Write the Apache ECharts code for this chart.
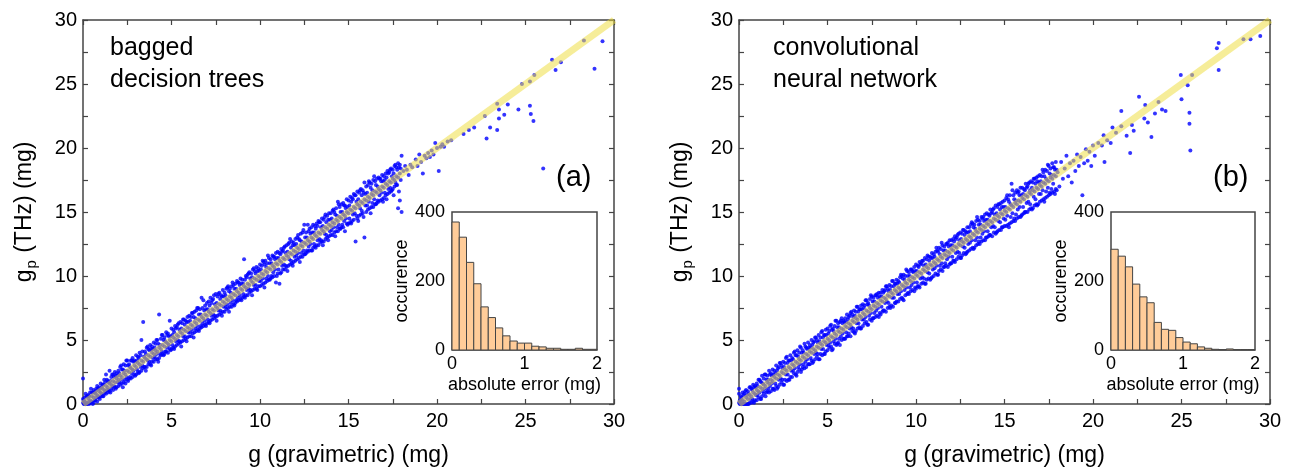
<!DOCTYPE html>
<html><head><meta charset="utf-8">
<script src="https://cdn.jsdelivr.net/npm/echarts@6/dist/echarts.min.js"></script>
<style>html,body{margin:0;padding:0;background:#fff}#c{width:1295px;height:472px}</style>
</head><body><div id="c"></div>
<script>
// ---------- data ----------
const xAxisTitle = 'g (gravimetric) (mg)';
const yAxisTitle = 'g{s|p} (THz) (mg)';
const insetXTitle = 'absolute error (mg)';
const insetYTitle = 'occurence';
const panelTags = ['(a)', '(b)'];
const methodA = ['bagged', 'decision trees'];
const methodB = ['convolutional', 'neural network'];
const diagonal = [[0, 0], [30, 30]];

const binEdges = [0,0.1,0.2,0.3,0.4,0.5,0.6,0.7,0.8,0.9,1.0,1.1,1.2,1.3,1.4,1.5,1.6,1.7,1.8,1.9,2.0];
const histA = [371,327,254,192,125,94,64,41,26,20,20,11,9,5,5,2,2,5,2,2];
const histB = [292,272,241,191,154,137,80,60,57,36,23,18,9,5,2,1,3,1,1,1];

// dense band, panel (a): [x, y, y, y]
const rowsA = [
[0.0,0.1,0.4,2.0],[0.1,0.2,0.5,0.0],[0.2,0.1,0.6,0.0],[0.3,0.4,0.7,0.1],[0.4,0.3,0.9,0.1],[0.5,0.6,0.9,0.2],[0.6,0.5,1.1,0.1],[0.7,0.8,1.0,0.3],[0.8,0.7,1.4,0.2],[0.9,1.0,1.3,0.5],
[1.0,0.9,1.6,0.6],[1.1,1.2,1.5,0.6],[1.2,1.1,1.9,0.8],[1.3,1.4,2.3,0.8],[1.4,1.3,1.8,0.9],[1.5,1.6,2.6,1.0],[1.6,1.5,2.1,1.2],[1.7,1.8,2.3,1.1],[1.8,1.7,2.5,1.3],[1.9,2.0,2.4,1.3],
[2.0,1.9,2.6,1.4],[2.1,2.2,2.9,1.5],[2.2,2.1,2.7,1.6],[2.3,2.4,3.1,1.7],[2.4,2.3,3.0,1.6],[2.5,2.6,3.4,1.9],[2.6,2.5,3.1,2.0],[2.7,2.8,3.4,2.0],[2.8,2.7,3.6,2.1],[2.9,3.0,3.4,2.3],
[3.0,2.9,3.8,2.3],[3.1,3.2,3.7,2.5],[3.2,3.1,4.0,2.5],[3.3,3.4,5.0,2.6],[3.4,3.3,6.4,2.8],[3.5,3.6,4.1,2.9],[3.6,3.5,4.4,2.9],[3.7,3.8,4.3,3.1],[3.8,3.7,4.6,3.1],[3.9,4.0,4.5,3.3],
[4.0,3.9,4.8,3.3],[4.1,4.2,4.7,3.5],[4.2,4.1,5.0,3.5],[4.3,4.4,7.0,3.6],[4.4,4.3,5.1,3.8],[4.5,4.6,5.4,3.9],[4.6,4.5,5.2,3.9],[4.7,4.8,5.6,4.1],[4.8,4.7,5.5,4.0],[4.9,5.0,6.5,4.3],
[5.0,4.9,5.9,4.3],[5.1,5.2,5.8,4.4],[5.2,5.1,6.1,4.5],[5.3,5.4,6.0,4.6],[5.4,5.3,6.3,4.7],[5.5,5.6,6.4,4.8],[5.6,5.5,6.3,4.9],[5.7,5.8,6.6,5.0],[5.8,5.7,6.5,5.1],[5.9,6.0,6.8,5.2],
[6.0,5.9,6.9,5.3],[6.1,6.2,6.8,5.3],[6.2,6.1,7.1,5.5],[6.3,6.4,7.2,5.6],[6.4,6.3,7.3,5.7],[6.5,6.6,7.5,5.8],[6.6,6.5,7.4,5.9],[6.7,6.8,8.3,6.0],[6.8,6.7,8.1,6.1],[6.9,7.0,7.7,6.2],
[7.0,6.9,7.9,6.3],[7.1,7.2,8.0,6.4],[7.2,7.1,8.3,6.5],[7.3,7.4,8.1,6.6],[7.4,7.3,8.5,6.7],[7.5,7.6,8.6,6.8],[7.6,7.5,8.4,6.9],[7.7,7.8,8.7,7.0],[7.8,7.7,8.5,7.1],[7.9,8.0,8.9,7.2],
[8.0,7.9,8.7,7.2],[8.1,8.2,9.0,7.4],[8.2,8.1,9.2,7.5],[8.3,8.4,9.0,7.6],[8.4,8.3,9.2,7.6],[8.5,8.6,9.3,7.8],[8.6,8.5,9.4,7.9],[8.7,8.8,9.6,8.0],[8.8,8.7,9.5,8.1],[8.9,9.0,9.8,8.2],
[9.0,8.9,9.7,8.3],[9.1,9.2,11.3,8.4],[9.2,9.1,10.0,8.5],[9.3,9.4,10.1,8.5],[9.4,9.3,10.3,8.7],[9.5,9.6,10.2,8.8],[9.6,9.5,10.5,8.9],[9.7,9.8,10.4,9.0],[9.8,9.7,10.7,9.0],[9.9,10.0,10.6,9.2],
[10.0,9.9,10.9,9.2],[10.1,10.2,10.8,9.3],[10.2,10.1,11.1,9.4],[10.3,10.4,11.2,9.5],[10.4,10.3,11.0,9.6],[10.5,10.6,11.4,9.7],[10.6,10.5,11.3,9.8],[10.7,10.8,11.6,9.9],[10.8,10.7,11.5,10.0],[10.9,11.0,11.8,9.5],
[11.0,10.9,11.9,10.2],[11.1,11.2,11.8,9.4],[11.2,11.1,12.1,10.3],[11.3,11.4,12.0,10.5],[11.4,11.3,12.3,10.5],[11.5,11.6,12.4,10.7],[11.6,11.5,12.5,10.8],[11.7,11.8,12.9,10.9],[11.8,11.7,12.7,11.0],[11.9,12.0,12.6,11.1],
[12.0,11.9,12.9,11.2],[12.1,12.2,13.0,11.3],[12.2,12.1,12.9,11.4],[12.3,12.4,13.3,11.5],[12.4,12.3,13.4,11.5],[12.5,12.6,14.0,11.7],[12.6,12.5,13.4,11.8],[12.7,12.8,14.0,11.9],[12.8,12.7,13.7,12.0],[12.9,13.0,13.8,12.0],
[13.0,12.9,14.0,12.2],[13.1,13.2,13.9,12.3],[13.2,13.1,14.1,12.4],[13.3,13.4,14.3,12.4],[13.4,13.3,14.2,12.6],[13.5,13.6,14.5,12.7],[13.6,13.5,14.4,12.7],[13.7,13.8,14.8,12.9],[13.8,13.7,14.7,13.0],[13.9,14.0,14.9,13.1],
[14.0,13.9,14.9,13.2],[14.1,14.2,15.1,13.2],[14.2,14.1,15.0,13.4],[14.3,14.4,15.3,13.5],[14.4,14.3,15.8,13.5],[14.5,14.6,15.4,13.7],[14.6,14.5,15.6,13.8],[14.7,14.8,15.7,13.8],[14.8,14.7,15.5,13.5],[14.9,15.0,16.0,14.1],
[15.0,14.9,15.9,14.1],[15.1,15.2,16.2,14.2],[15.2,15.1,16.1,14.3],[15.3,15.4,16.4,14.4],[15.4,15.3,16.3,12.7],[15.5,15.6,16.6,14.5],[15.6,15.5,16.5,14.7],[15.7,15.8,16.8,14.8],[15.8,15.7,16.7,14.9],[15.9,16.0,17.3,13.0],
[16.0,15.9,17.0,15.0],[16.1,16.2,17.1,15.2],[16.2,16.1,17.3,15.3],[16.3,16.4,17.2,15.4],[16.4,16.3,17.5,15.4],[16.5,16.6,17.4,15.6],[16.6,16.5,17.6,15.7],[16.7,16.8,17.7,15.8],[16.8,16.7,17.6,15.9],[16.9,17.0,17.9,16.0],
[17.0,16.9,17.8,16.1],[17.1,17.2,18.0,16.3],[17.2,17.1,18.2,16.4],[17.3,17.4,18.1,16.5],[17.4,17.3,18.4,16.6],[17.5,17.6,18.3,16.8],[17.6,17.5,18.6,17.0],[17.7,17.8,18.5,17.1],[17.8,17.7,18.8,15.3],[17.9,18.0,18.7,15.9]
];
// in-between points, panel (a): [x, y, y]
const fillA = [
[0.05,0.3,0.0],[0.15,0.0,0.8],[0.25,0.6,0.0],[0.35,0.0,0.6],[0.45,1.2,0.2],[0.55,0.0,0.9],[0.65,0.9,0.3],[0.75,0.5,1.2],[0.85,1.2,0.6],[0.95,0.4,1.2],
[1.05,0.8,1.3],[1.15,1.5,0.6],[1.25,1.0,1.7],[1.35,1.9,1.1],[1.45,1.1,1.7],[1.55,1.8,0.9],[1.65,1.4,2.3],[1.75,2.1,1.4],[1.85,1.2,2.2],[1.95,2.2,1.7],
[2.05,2.4,1.7],[2.15,1.9,3.0],[2.25,2.7,1.3],[2.35,1.9,2.6],[2.45,3.4,2.1],[2.55,1.8,3.0],[2.65,2.9,2.1],[2.75,2.4,3.4],[2.85,3.3,2.6],[2.95,2.2,3.3],
[3.05,2.7,3.4],[3.15,3.6,2.4],[3.25,2.9,3.8],[3.35,4.1,3.0],[3.45,2.9,3.7],[3.55,3.9,2.6],[3.65,3.4,4.5],[3.75,4.2,3.3],[3.85,3.0,4.3],[3.95,4.3,3.6],
[4.05,4.4,3.7],[4.15,3.9,5.0],[4.25,4.7,3.3],[4.35,3.9,4.6],[4.45,5.4,4.1],[4.55,3.8,5.0],[4.65,4.9,4.1],[4.75,4.4,5.4],[4.85,5.3,4.6],[4.95,4.2,5.3],
[5.05,4.6,5.4],[5.15,5.6,4.3],[5.25,4.9,5.9],[5.35,6.2,5.0],[5.45,4.9,5.8],[5.55,5.9,4.5],[5.65,5.3,6.6],[5.75,6.2,5.3],[5.85,4.9,6.4],[5.95,6.4,5.6],
[6.05,6.5,5.6],[6.15,5.8,7.1],[6.25,6.8,5.2],[6.35,5.9,6.7],[6.45,7.5,6.1],[6.55,5.7,7.0],[6.65,7.0,6.1],[6.75,6.3,7.5],[6.85,7.3,6.5],[6.95,6.1,7.4],
[7.05,6.6,7.4],[7.15,7.7,6.3],[7.25,6.9,7.9],[7.35,8.2,7.0],[7.45,6.9,7.8],[7.55,7.9,6.5],[7.65,7.3,8.6],[7.75,8.2,7.3],[7.85,6.9,8.4],[7.95,8.4,7.6],
[8.05,8.5,7.6],[8.15,7.8,9.1],[8.25,8.8,7.2],[8.35,7.9,8.7],[8.45,9.5,8.1],[8.55,7.7,9.0],[8.65,9.0,8.1],[8.75,8.3,9.5],[8.85,9.3,8.5],[8.95,8.1,9.4],
[9.05,8.6,9.4],[9.15,9.7,8.3],[9.25,8.9,9.9],[9.35,10.2,9.0],[9.45,8.9,9.8],[9.55,9.9,8.5],[9.65,9.3,10.6],[9.75,10.2,9.3],[9.85,8.9,10.4],[9.95,10.4,9.6],
[10.05,10.5,9.6],[10.15,9.8,11.2],[10.25,10.9,9.1],[10.35,9.8,10.7],[10.45,11.6,10.0],[10.55,9.7,11.0],[10.65,11.0,10.0],[10.75,10.3,11.5],[10.85,11.3,10.5],[10.95,10.0,11.4],
[11.05,10.5,11.4],[11.15,11.7,10.2],[11.25,10.8,11.9],[11.35,12.2,10.9],[11.45,10.8,11.8],[11.55,11.9,10.4],[11.65,11.3,12.6],[11.75,12.2,11.2],[11.85,10.8,12.4],[11.95,12.4,11.5],
[12.05,12.5,11.6],[12.15,11.8,13.2],[12.25,12.8,11.1],[12.35,11.8,12.7],[12.45,13.6,12.0],[12.55,11.7,13.0],[12.65,13.0,12.0],[12.75,12.3,13.5],[12.85,13.3,12.5],[12.95,12.0,13.4],
[13.05,12.5,13.4],[13.15,13.7,12.2],[13.25,12.8,13.9],[13.35,14.2,12.9],[13.45,12.8,13.8],[13.55,13.9,12.4],[13.65,13.3,14.6],[13.75,14.2,13.2],[13.85,12.8,14.4],[13.95,14.4,13.5],
[14.05,14.5,13.6],[14.15,13.8,15.2],[14.25,14.8,13.1],[14.35,13.8,14.7],[14.45,15.6,14.0],[14.55,13.7,15.0],[14.65,15.0,14.0],[14.75,14.3,15.5],[14.85,15.3,14.5],[14.95,14.0,15.4],
[15.05,14.5,15.5],[15.15,15.8,14.1],[15.25,14.8,16.0],[15.35,16.3,14.9],[15.45,14.7,15.8],[15.55,16.0,14.3],[15.65,15.3,16.7],[15.75,16.3,15.1],[15.85,14.6,16.5],[15.95,16.4,15.5],
[16.05,16.5,15.5],[16.15,15.8,17.4],[16.25,16.9,14.9],[16.35,15.7,16.7],[16.45,17.8,16.0],[16.55,15.6,17.1],[16.65,17.0,15.9],[16.75,16.3,17.6],[16.85,17.4,16.5],[16.95,15.8,17.4],
[17.05,16.5,17.5],[17.15,17.7,16.0],[17.25,16.8,18.0],[17.35,18.3,16.9],[17.45,16.7,17.8],[17.55,18.0,16.3],[17.65,17.3,18.7],[17.75,18.3,17.1],[17.85,16.6,18.5],[17.95,18.4,17.5]
];
const sparseA = [
[18.0,19.4],[18.0,15.0],[18.1,18.2],[18.2,18.6],[18.3,18.3],[18.4,17.9],[18.5,18.7],[18.6,18.5],[18.8,19.1],[18.9,18.6],
[19.0,19.5],[19.1,18.9],[19.2,18.0],[19.3,19.4],[19.4,19.2],[19.5,19.6],[19.6,19.3],[19.7,19.8],[19.8,19.5],[19.9,20.4],
[20.0,20.0],[20.1,18.2],[20.2,20.1],[20.3,20.3],[20.4,20.1],[20.6,20.5],[20.8,20.6],
[21.5,21.1],[21.8,21.4],[22.1,21.6],[22.7,22.5],[22.8,20.75],[23.0,21.6],[23.4,23.45],[23.4,21.4],[23.5,23.0],[23.5,22.3],[23.8,22.6],
[24.0,23.4],[24.6,23.0],[24.8,25.0],[25.25,25.2],[25.5,25.7],[25.25,23.3],[25.3,22.65],[25.45,22.1],[26.0,18.4],
[26.5,26.9],[27.0,26.7],[26.7,26.1],[28.3,28.4],[28.9,26.2],[29.35,28.34]
];

// dense band, panel (b): [x, y, y, y]
const rowsB = [
[0.0,0.1,1.2,0.8],[0.1,0.0,0.6,0.3],[0.2,0.3,0.9,0.0],[0.3,0.2,0.8,0.0],[0.4,0.5,1.1,0.0],[0.5,0.4,1.0,0.0],[0.6,0.7,1.3,0.1],[0.7,0.6,1.2,0.1],[0.8,0.9,1.5,0.2],[0.9,0.8,1.4,0.3],
[1.0,1.1,1.6,0.3],[1.1,1.0,1.9,0.5],[1.2,1.3,1.8,0.4],[1.3,1.2,2.2,0.6],[1.4,1.5,2.0,0.8],[1.5,1.4,2.3,0.6],[1.6,1.7,2.2,1.0],[1.7,1.6,2.6,0.9],[1.8,1.9,2.4,1.0],[1.9,1.8,2.7,1.2],
[2.0,2.1,2.6,1.1],[2.1,2.0,3.0,1.4],[2.2,2.3,2.8,1.3],[2.3,2.2,3.2,1.5],[2.4,2.5,3.0,1.7],[2.5,2.4,3.3,1.5],[2.6,2.7,3.2,1.9],[2.7,2.6,3.7,1.8],[2.8,2.9,3.4,1.9],[2.9,2.8,3.8,2.1],
[3.0,3.1,3.6,2.1],[3.1,3.0,4.0,2.4],[3.2,3.3,3.8,2.3],[3.3,3.2,4.2,2.5],[3.4,3.5,4.0,2.7],[3.5,3.4,4.4,2.5],[3.6,3.7,4.2,2.9],[3.7,3.6,4.7,2.8],[3.8,3.9,4.4,2.9],[3.9,3.8,4.8,3.1],
[4.0,4.1,4.6,3.1],[4.1,4.0,5.0,3.4],[4.2,4.3,4.8,3.3],[4.3,4.2,5.2,3.5],[4.4,4.5,5.0,3.7],[4.5,4.4,5.4,3.5],[4.6,4.7,5.2,3.9],[4.7,4.6,5.7,3.8],[4.8,4.9,5.4,3.9],[4.9,4.8,5.8,4.1],
[5.0,5.1,5.9,4.2],[5.1,5.0,5.7,4.4],[5.2,5.3,6.2,4.5],[5.3,5.2,5.9,4.3],[5.4,5.5,6.1,4.7],[5.5,5.4,6.5,4.6],[5.6,5.7,6.3,4.8],[5.7,5.6,6.4,4.6],[5.8,5.9,6.7,5.0],[5.9,5.8,6.5,5.1],
[6.0,6.1,6.7,5.1],[6.1,6.0,7.0,5.3],[6.2,6.3,6.8,5.5],[6.3,6.2,7.1,5.3],[6.4,6.5,7.0,5.7],[6.5,6.4,7.3,5.6],[6.6,6.7,7.2,5.7],[6.7,6.6,7.6,5.9],[6.8,6.9,7.4,6.0],[6.9,6.8,7.7,5.9],
[7.0,7.1,7.8,6.1],[7.1,7.0,7.7,6.3],[7.2,7.3,8.1,6.4],[7.3,7.2,7.9,6.2],[7.4,7.5,8.2,6.6],[7.5,7.4,8.4,6.5],[7.6,7.7,8.3,6.7],[7.7,7.6,8.5,6.8],[7.8,7.9,8.6,6.9],[7.9,7.8,8.7,6.8],
[8.0,8.1,8.7,7.0],[8.1,8.0,8.9,7.2],[8.2,8.3,8.8,7.3],[8.3,8.2,9.2,7.2],[8.4,8.5,9.0,7.5],[8.5,8.4,9.3,7.6],[8.6,8.7,9.2,7.7],[8.7,8.6,9.6,7.6],[8.8,8.9,9.4,7.9],[8.9,8.8,9.7,8.0],
[9.0,9.1,9.6,8.0],[9.1,9.0,9.9,8.2],[9.2,9.3,10.0,8.3],[9.3,9.2,10.1,8.1],[9.4,9.5,10.0,8.5],[9.5,9.4,10.4,8.6],[9.6,9.7,10.3,8.6],[9.7,9.6,10.5,8.8],[9.8,9.9,10.4,8.9],[9.9,9.8,10.7,8.8],
[10.0,10.1,10.9,9.0],[10.1,10.0,10.8,9.2],[10.2,10.3,11.1,9.1],[10.3,10.2,11.0,9.4],[10.4,10.5,11.2,9.5],[10.5,10.4,11.4,9.4],[10.6,10.7,11.3,9.7],[10.7,10.6,11.5,9.8],[10.8,10.9,11.5,9.7],[10.9,10.8,11.8,9.9],
[11.0,11.1,11.7,10.0],[11.1,11.0,11.9,10.2],[11.2,11.3,12.0,10.1],[11.3,11.2,12.2,10.4],[11.4,11.5,12.1,10.5],[11.5,11.4,12.4,10.4],[11.6,11.7,12.3,10.7],[11.7,11.6,12.5,10.8],[11.8,11.9,12.6,10.7],[11.9,11.8,12.8,10.9],
[12.0,12.1,12.8,11.0],[12.1,12.0,12.9,11.2],[12.2,12.3,13.1,11.1],[12.3,12.2,13.0,11.3],[12.4,12.5,13.3,11.5],[12.5,12.4,13.4,11.4],[12.6,12.7,13.3,11.6],[12.7,12.6,13.6,11.8],[12.8,12.9,13.5,11.7],[12.9,12.8,13.8,11.9],
[13.0,13.1,13.8,12.0],[13.1,13.0,14.0,12.1],[13.2,13.3,14.1,12.2],[13.3,13.2,14.0,12.2],[13.4,13.5,14.3,12.4],[13.5,13.4,14.4,12.5],[13.6,13.7,14.3,12.5],[13.7,13.6,14.6,12.7],[13.8,13.9,14.6,12.8],[13.9,13.8,14.8,12.8],
[14.0,14.1,14.9,13.0],[14.1,14.0,14.8,13.1],[14.2,14.3,15.2,13.2],[14.3,14.2,15.0,13.1],[14.4,14.5,15.3,13.4],[14.5,14.4,15.5,13.3],[14.6,14.7,15.4,13.5],[14.7,14.6,15.6,13.6],[14.8,14.9,15.7,13.6],[14.9,14.8,15.8,13.8],
[15.0,15.1,15.9,13.9],[15.1,15.0,16.1,13.9],[15.2,15.3,16.0,14.0],[15.3,15.2,16.3,14.1],[15.4,15.5,17.2,14.2],[15.5,15.4,16.3,14.3],[15.6,15.7,16.5,14.3],[15.7,15.6,16.7,14.5],[15.8,15.9,16.6,14.6],[15.9,15.8,16.9,14.6],
[16.0,16.1,16.9,14.8],[16.1,16.0,16.8,14.9],[16.2,16.3,17.2,15.0],[16.3,16.2,17.0,15.0],[16.4,16.5,17.3,15.2],[16.5,16.4,17.4,15.3],[16.6,16.7,17.3,15.3],[16.7,16.6,17.6,15.5],[16.8,16.9,17.7,15.6],[16.9,16.8,17.8,15.6],
[17.0,17.1,17.9,15.8],[17.1,17.0,17.8,15.9],[17.2,17.3,18.1,16.0],[17.3,17.2,18.3,16.1],[17.4,17.5,18.2,16.2],[17.5,17.4,18.6,16.3],[17.6,17.7,18.4,16.4],[17.7,17.6,18.8,16.5],[17.8,17.9,18.5,16.6],[17.9,17.8,18.9,16.8]
];
// in-between points, panel (b): [x, y, y]
const fillB = [
[0.05,0.0,0.3],[0.15,0.5,0.0],[0.25,0.0,0.7],[0.35,1.0,0.0],[0.45,0.0,0.7],[0.55,0.8,0.0],[0.65,0.4,1.3],[0.75,1.1,0.4],[0.85,0.1,1.3],[0.95,1.3,0.7],
[1.05,1.4,0.7],[1.15,0.9,1.9],[1.25,1.7,0.4],[1.35,1.0,1.6],[1.45,2.3,1.2],[1.55,0.9,1.9],[1.65,1.9,1.2],[1.75,1.4,2.3],[1.85,2.2,1.6],[1.95,1.2,2.3],
[2.05,1.6,2.4],[2.15,2.6,1.2],[2.25,1.9,2.9],[2.35,3.2,2.0],[2.45,1.9,2.8],[2.55,2.9,1.5],[2.65,2.3,3.6],[2.75,3.2,2.3],[2.85,1.9,3.4],[2.95,3.4,2.6],
[3.05,3.5,2.6],[3.15,2.8,4.1],[3.25,3.8,2.2],[3.35,2.9,3.7],[3.45,4.5,3.1],[3.55,2.7,4.0],[3.65,4.0,3.1],[3.75,3.3,4.5],[3.85,4.3,3.5],[3.95,3.1,4.4],
[4.05,3.6,4.4],[4.15,4.6,3.2],[4.25,3.9,4.9],[4.35,5.2,4.0],[4.45,3.9,4.8],[4.55,4.9,3.5],[4.65,4.3,5.6],[4.75,5.2,4.3],[4.85,3.9,5.4],[4.95,5.4,4.6],
[5.05,5.5,4.6],[5.15,4.8,6.1],[5.25,5.8,4.2],[5.35,4.9,5.7],[5.45,6.5,5.1],[5.55,4.7,6.0],[5.65,6.0,5.1],[5.75,5.3,6.5],[5.85,6.3,5.5],[5.95,5.1,6.4],
[6.05,5.6,6.4],[6.15,6.6,5.3],[6.25,5.9,6.9],[6.35,7.2,6.0],[6.45,5.9,6.8],[6.55,6.9,5.5],[6.65,6.3,7.6],[6.75,7.2,6.3],[6.85,5.9,7.4],[6.95,7.4,6.6],
[7.05,7.5,6.6],[7.15,6.8,8.1],[7.25,7.8,6.2],[7.35,6.9,7.7],[7.45,8.5,7.1],[7.55,6.7,8.0],[7.65,8.0,7.1],[7.75,7.3,8.5],[7.85,8.3,7.5],[7.95,7.1,8.4],
[8.05,7.6,8.4],[8.15,8.7,7.3],[8.25,7.9,8.9],[8.35,9.2,8.0],[8.45,7.9,8.8],[8.55,8.9,7.5],[8.65,8.3,9.6],[8.75,9.2,8.3],[8.85,7.9,9.4],[8.95,9.4,8.6],
[9.05,9.5,8.6],[9.15,8.8,10.1],[9.25,9.8,8.2],[9.35,8.9,9.7],[9.45,10.5,9.1],[9.55,8.7,10.0],[9.65,10.0,9.1],[9.75,9.3,10.5],[9.85,10.3,9.5],[9.95,9.1,10.4],
[10.05,9.5,10.4],[10.15,10.7,9.2],[10.25,9.8,10.9],[10.35,11.2,9.9],[10.45,9.8,10.8],[10.55,10.9,9.4],[10.65,10.3,11.6],[10.75,11.2,10.2],[10.85,9.8,11.4],[10.95,11.4,10.5],
[11.05,11.5,10.6],[11.15,10.8,12.2],[11.25,11.9,10.1],[11.35,10.8,11.7],[11.45,12.6,11.0],[11.55,10.7,12.0],[11.65,12.0,11.0],[11.75,11.3,12.5],[11.85,12.3,11.5],[11.95,11.0,12.4],
[12.05,11.5,12.4],[12.15,12.7,11.2],[12.25,11.8,12.9],[12.35,13.2,11.9],[12.45,11.8,12.8],[12.55,12.9,11.4],[12.65,12.3,13.6],[12.75,13.2,12.2],[12.85,11.8,13.4],[12.95,13.4,12.5],
[13.05,13.5,12.6],[13.15,12.8,14.2],[13.25,13.8,12.1],[13.35,12.8,13.7],[13.45,14.6,13.0],[13.55,12.7,14.0],[13.65,14.0,13.0],[13.75,13.3,14.5],[13.85,14.3,13.5],[13.95,13.0,14.4],
[14.05,13.5,14.4],[14.15,14.7,13.2],[14.25,13.8,14.9],[14.35,15.2,13.9],[14.45,13.8,14.8],[14.55,14.9,13.4],[14.65,14.3,15.6],[14.75,15.2,14.2],[14.85,13.8,15.4],[14.95,15.4,14.5],
[15.05,15.4,14.4],[15.15,14.7,16.3],[15.25,15.8,13.8],[15.35,14.6,15.6],[15.45,16.7,14.9],[15.55,14.5,16.0],[15.65,15.9,14.8],[15.75,15.2,16.5],[15.85,16.3,15.4],[15.95,14.7,16.3],
[16.05,15.4,16.4],[16.15,16.7,15.0],[16.25,15.7,16.9],[16.35,17.2,15.8],[16.45,15.6,16.7],[16.55,16.9,15.2],[16.65,16.2,17.6],[16.75,17.2,16.0],[16.85,15.5,17.4],[16.95,17.3,16.4],
[17.05,17.4,16.4],[17.15,16.7,18.3],[17.25,17.8,15.8],[17.35,16.6,17.6],[17.45,18.7,16.9],[17.55,16.5,18.0],[17.65,17.9,16.8],[17.75,17.2,18.5],[17.85,18.3,16.4],[17.95,16.7,18.3]
];
const sparseB = [
[18.0,18.1],[18.1,17.0],[18.2,18.9],[18.3,17.6],[18.4,18.4],[18.5,19.4],[18.6,17.8],[18.7,18.8],[18.8,17.3],[18.9,19.0],
[19.0,18.2],[19.1,19.5],[19.2,18.6],[19.3,19.3],[19.4,16.3],[19.5,18.8],[19.6,19.9],[19.7,19.0],[19.8,19.7],[19.9,18.6],
[20.0,20.2],[20.1,19.4],[20.3,20.4],[20.5,20.2],[20.6,21.0],[20.65,18.9],[20.8,20.6],[21.0,20.4],[21.1,21.6],[21.3,21.2],
[21.6,21.7],[21.6,22.9],[21.9,20.95],[22.1,19.6],[22.2,21.8],[22.3,21.35],[22.6,24.0],[22.9,22.3],[22.95,23.35],[23.1,22.0],
[23.3,20.85],[23.5,22.7],[23.7,23.6],[23.9,23.0],[24.1,22.9],[24.96,25.7],[25.0,23.8],[25.35,24.9],[25.6,25.7],[25.45,22.75],
[25.45,21.9],[25.5,19.8],[27.0,27.8],[27.1,28.2],[27.1,26.1],[28.5,28.5],[28.9,28.5],[29.45,28.75]
];

// ---------- build ----------
function pairs(rows, fill, sparse) {
  const out = [];
  rows.forEach(r => { for (let k = 1; k < r.length; k++) out.push([r[0], r[k]]); });
  fill.forEach(r => { for (let k = 1; k < r.length; k++) out.push([r[0], r[k]]); });
  return out.concat(sparse);
}
function bins(h) { return h.map((c, i) => [binEdges[i], binEdges[i + 1], c]); }

const FONT = 'Liberation Sans, Arial, sans-serif';
const FRAME = '#444';
const mainGrids = [
  { left: 83, top: 20, width: 531, height: 385 },
  { left: 739, top: 20, width: 531, height: 385 }
];
const insetGrids = [
  { left: 452, top: 212, width: 145, height: 138 },
  { left: 1111, top: 212, width: 144, height: 138 }
];

const grid = [];
mainGrids.forEach(g => grid.push(Object.assign({ show: false, containLabel: false }, g)));
insetGrids.forEach(g => grid.push(Object.assign({ show: true, borderColor: FRAME, borderWidth: 1.5, backgroundColor: '#fff', z: 10 }, g)));

const xAxis = [], yAxis = [];
function mainAxes(gi) {
  const common = {
    type: 'value', min: 0, max: 30, interval: 5, gridIndex: gi,
    axisLine: { show: true, onZero: false, lineStyle: { color: FRAME, width: 1.5 } },
    axisTick: { show: true, inside: true, length: 5, lineStyle: { color: FRAME, width: 1.2 } },
    minorTick: { show: true, splitNumber: 2, length: 5, lineStyle: { color: FRAME, width: 1.2 } },
    splitLine: { show: false }
  };
  xAxis.push(Object.assign({}, common, {
    position: 'bottom',
    axisLabel: { fontSize: 20, color: '#000', fontFamily: FONT, margin: 7 },
    name: xAxisTitle, nameLocation: 'middle', nameGap: 40,
    nameTextStyle: { fontSize: 23, color: '#000', fontFamily: FONT }
  }));
  xAxis.push(Object.assign({}, common, { position: 'top', axisLabel: { show: false } }));
  yAxis.push(Object.assign({}, common, {
    position: 'left',
    axisLabel: { fontSize: 20, color: '#000', fontFamily: FONT, margin: 6 },
    name: yAxisTitle, nameLocation: 'middle', nameGap: 44, nameRotate: 90,
    nameTextStyle: { fontSize: 23, color: '#000', fontFamily: FONT, lineHeight: 28,
      rich: { s: { fontSize: 15, fontFamily: FONT, color: '#000', verticalAlign: 'bottom', lineHeight: 28, padding: [0, 1, 0, 1] } } }
  }));
  yAxis.push(Object.assign({}, common, { position: 'right', axisLabel: { show: false } }));
}
mainAxes(0); mainAxes(1);
function insetAxes(gi) {
  xAxis.push({
    type: 'value', gridIndex: gi, min: 0, max: 2, interval: 1, position: 'bottom',
    axisLine: { show: false, onZero: false }, axisTick: { show: false }, splitLine: { show: false },
    axisLabel: { fontSize: 18, color: '#000', fontFamily: FONT, margin: 5 },
    name: insetXTitle, nameLocation: 'middle', nameGap: 26,
    nameTextStyle: { fontSize: 18, color: '#000', fontFamily: FONT }, z: 11
  });
  yAxis.push({
    type: 'value', gridIndex: gi, min: 0, max: 400, interval: 200, position: 'left',
    axisLine: { show: false, onZero: false }, axisTick: { show: false }, splitLine: { show: false },
    axisLabel: { fontSize: 18, color: '#000', fontFamily: FONT, margin: 7 },
    name: insetYTitle, nameLocation: 'middle', nameGap: 40, nameRotate: 90,
    nameTextStyle: { fontSize: 18, color: '#000', fontFamily: FONT }, z: 11
  });
}
insetAxes(2); insetAxes(3);

function histRender(params, api) {
  const p0 = api.coord([api.value(0), api.value(2)]);
  const p1 = api.coord([api.value(1), 0]);
  return { type: 'rect', shape: { x: p0[0], y: p0[1], width: p1[0] - p0[0], height: p1[1] - p0[1] },
    style: { fill: '#FFCC99', stroke: '#444', lineWidth: 1 } };
}

const series = [];
[[rowsA, fillA, sparseA], [rowsB, fillB, sparseB]].forEach((d, i) => {
  series.push({ type: 'scatter', xAxisIndex: i * 2, yAxisIndex: i * 2, data: pairs(d[0], d[1], d[2]),
    symbol: 'circle', symbolSize: 4, itemStyle: { color: '#0000ff' }, z: 2, silent: true, animation: false, large: false });
  series.push({ type: 'line', xAxisIndex: i * 2, yAxisIndex: i * 2, data: diagonal, showSymbol: false,
    lineStyle: { color: 'rgba(238,222,70,0.55)', width: 7, cap: 'butt' }, z: 3, silent: true, animation: false });
});
[histA, histB].forEach((h, i) => {
  series.push({ type: 'custom', xAxisIndex: 4 + i, yAxisIndex: 4 + i, data: bins(h), renderItem: histRender,
    z: 12, silent: true, animation: false, clip: false });
});

function txt(x, y, text, size) {
  return { type: 'text', left: x, top: y, z: 20, style: { text: text, font: size + 'px ' + FONT, fill: '#000' } };
}
const graphic = [
  txt(110, 36, methodA[0], 25), txt(110, 68, methodA[1], 25),
  txt(773, 36, methodB[0], 25), txt(773, 68, methodB[1], 25),
  txt(556, 163, panelTags[0], 29), txt(1213, 163, panelTags[1], 29)
];

const chart = echarts.init(document.getElementById('c'), null, { renderer: 'canvas' });
chart.setOption({ animation: false, backgroundColor: '#fff', grid, xAxis, yAxis, series, graphic });
</script></body></html>
